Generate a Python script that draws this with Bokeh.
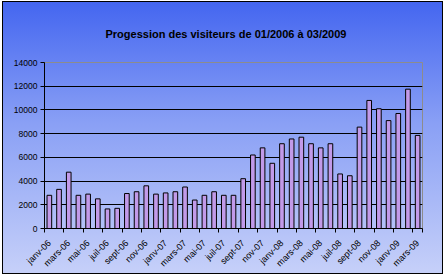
import math
from bokeh.plotting import figure
from bokeh.models import FixedTicker, Range1d
from bokeh.embed import file_html
from bokeh.resources import INLINE

title_text = "Progession des visiteurs de 01/2006 à 03/2009"
month_names = ["janv", "févr", "mars", "avr", "mai", "juin",
               "juil", "août", "sept", "oct", "nov", "déc"]
years = ["06", "07", "08", "09"]
months = [f"{m}-{y}" for y in years for m in month_names][:39]
visitors = [2800, 3300, 4750, 2800, 2900, 2500, 1650, 1700, 2950, 3100,
            3600, 2900, 3000, 3100, 3500, 2400, 2800, 3100, 2800, 2800,
            4200, 6200, 6800, 5500, 7150, 7550, 7700, 7150, 6800, 7150,
            4600, 4450, 8550, 10800, 10100, 9100, 9700, 11750, 7850]
y_ticks = [0, 2000, 4000, 6000, 8000, 10000, 12000, 14000]

idx = list(range(len(months)))
FONT = "Liberation Sans"

p = figure(width=441, height=273, output_backend="svg", toolbar_location=None,
           x_range=Range1d(-0.5, len(months) - 0.5), y_range=Range1d(0, 14000),
           min_border_left=41, min_border_right=22, min_border_top=46,
           min_border_bottom=47,
           styles={"border": "1px solid black", "margin-left": "2px",
                   "margin-top": "1px",
                   "background": "linear-gradient(to bottom, #4466f0 0%, #8aa0f5 45%, #c6d0f9 100%)"})
p.border_fill_alpha = 0
p.background_fill_alpha = 0
p.outline_line_color = "#8c8c8c"
p.outline_line_width = 1

p.title.text = title_text
p.title.align = "left"
p.title.offset = 61
p.title.text_font = FONT
p.title.text_font_size = "11px"
p.title.text_font_style = "bold"
p.title.text_color = "black"
p.title.standoff = 46

p.vbar(x=idx, top=visitors, width=0.48, fill_color="#c29ae9",
       line_color="black", line_width=1)

# y axis
p.yaxis.ticker = FixedTicker(ticks=y_ticks)
p.yaxis.major_label_text_font = FONT
p.yaxis.major_label_text_font_size = "8.5px"
p.yaxis.major_label_text_color = "black"
p.yaxis.axis_line_color = "black"
p.yaxis.major_tick_line_color = "black"
p.yaxis.major_tick_out = 4
p.yaxis.major_tick_in = 0
p.yaxis.minor_tick_line_color = None
p.yaxis.major_label_standoff = 3

# x axis
label_pos = idx[::2]
p.xaxis.ticker = FixedTicker(ticks=label_pos,
                             minor_ticks=[i - 0.5 for i in idx[::2]] + [len(months) - 0.5])
p.xaxis.major_label_overrides = {i: months[i] for i in label_pos}
p.xaxis.major_label_orientation = math.pi / 4
p.xaxis.major_label_text_font = FONT
p.xaxis.major_label_text_font_size = "9px"
p.xaxis.major_label_text_color = "black"
p.xaxis.major_tick_line_color = None
p.xaxis.major_tick_out = 0
p.xaxis.major_tick_in = 0
p.xaxis.minor_tick_line_color = "black"
p.xaxis.minor_tick_out = 4
p.xaxis.minor_tick_in = 0
p.xaxis.axis_line_color = "black"
p.xaxis.major_label_standoff = 9

p.xgrid.grid_line_color = None
p.ygrid.grid_line_color = "black"
p.ygrid.grid_line_width = 1
p.ygrid.ticker = FixedTicker(ticks=y_ticks[1:-1])

open("out.html", "w").write(file_html(p, INLINE))
